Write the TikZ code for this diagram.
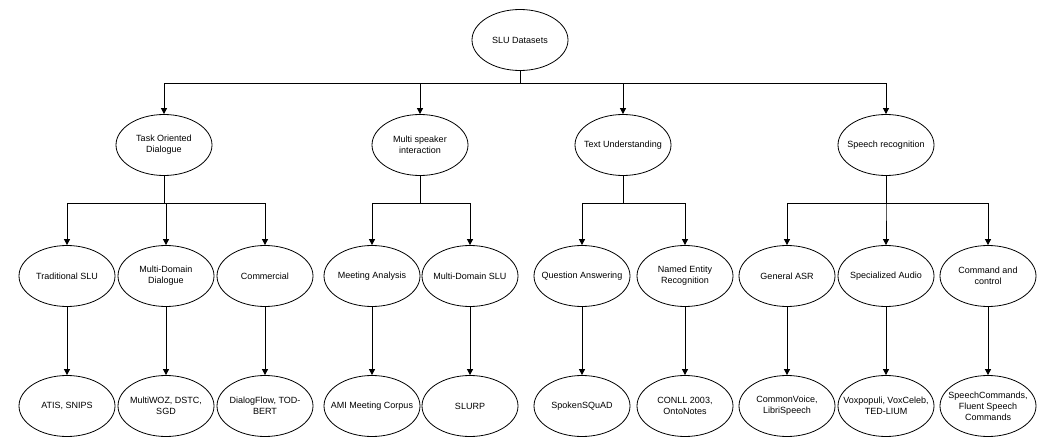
\documentclass[tikz,border=0pt]{standalone}
\usepackage{fontspec}
\setmainfont{Liberation Sans}
\usetikzlibrary{shapes.geometric,arrows.meta}
\begin{document}
\begin{tikzpicture}[x=1pt,y=-1pt,
  el/.style={ellipse,draw,line width=0.8pt,minimum width=96pt,minimum height=61pt,inner sep=0pt,
    label={[align=center,font=\fontsize{9}{11}\selectfont]center:#1}},
  ar/.style={-{Triangle[length=6pt,width=6pt]},line width=0.8pt}]
\useasboundingbox (0,0) rectangle (1042,441);
\node[el={SLU Datasets}] (r) at (520,40) {};
\foreach \n/\x/\t in {a/164/{Task Oriented\\Dialogue},b/420/{Multi speaker\\interaction},c/623/{Text Understanding},d/886/{Speech recognition}}
  \node[el={\t}] (\n) at (\x,145) {};
\foreach \n/\x/\t/\u in {a1/67/{Traditional SLU}/{ATIS, SNIPS},a2/166/{Multi-Domain\\Dialogue}/{MultiWOZ, DSTC,\\SGD},a3/265/{Commercial}/{DialogFlow, TOD-\\BERT},b1/372/{Meeting Analysis}/{AMI Meeting Corpus},b2/470/{Multi-Domain SLU}/{SLURP},c1/582/{Question Answering}/{SpokenSQuAD},c2/685/{Named Entity\\Recognition}/{CONLL 2003,\\OntoNotes},d1/787/{General ASR}/{CommonVoice,\\LibriSpeech},d2/886/{Specialized Audio}/{Voxpopuli, VoxCeleb,\\TED-LIUM},d3/988/{Command and\\control}/{SpeechCommands,\\Fluent Speech\\Commands}}{
  \node[el={\t}] (\n) at (\x,276) {};
  \node[el={\u}] (\n x) at (\x,406) {};
  \draw[ar] (\n) -- (\n x);
}
\foreach \n in {a,b,c,d} \draw[ar] (r.south) -- ++(0,13) -| (\n.north);
\foreach \p/\cs in {a/{a1,a2,a3},b/{b1,b2},c/{c1,c2},d/{d1,d2,d3}}
  \foreach \n in \cs \draw[ar] (\p.south) -- ++(0,27) -| (\n.north);
\end{tikzpicture}
\end{document}
